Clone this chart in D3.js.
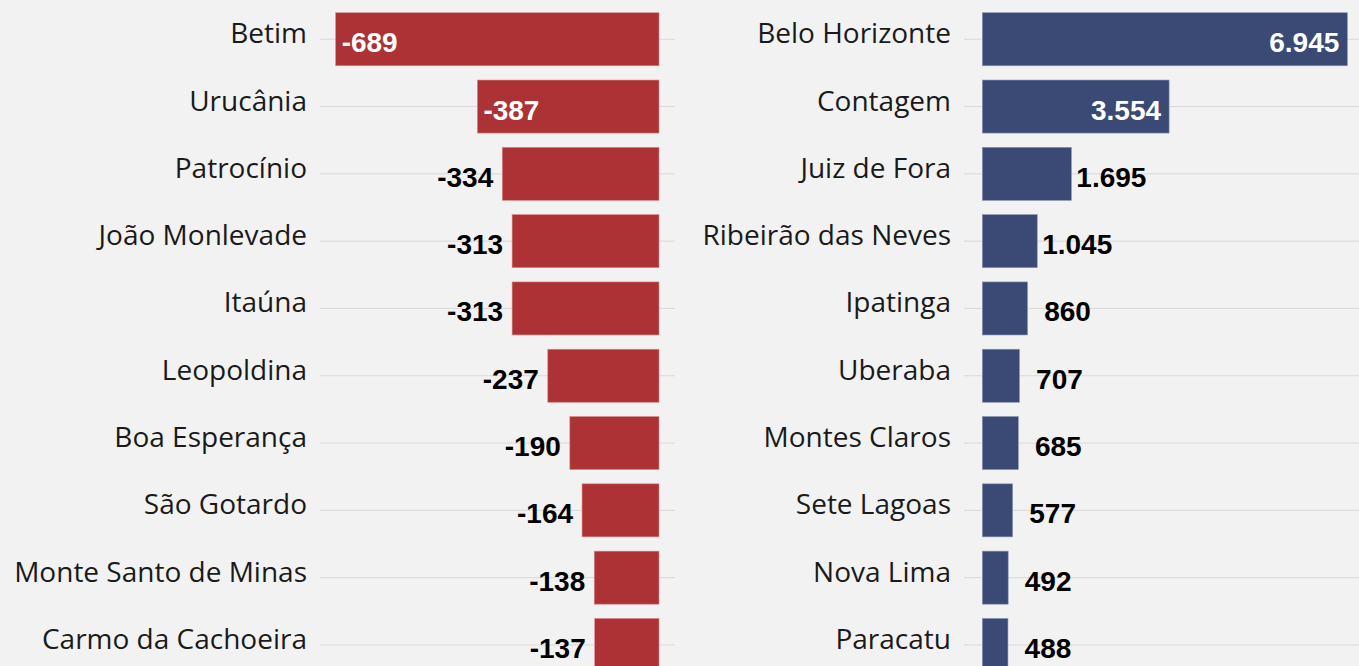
<!DOCTYPE html>
<html>
<head>
<meta charset="utf-8">
<script src="https://cdn.jsdelivr.net/npm/d3@7"></script>
<style>
  html, body { margin: 0; padding: 0; background: #f2f2f2; overflow: hidden; }
</style>
</head>
<body>
<div id="chart"></div>
<script>
// Data
const lossCities = ["Betim", "Urucânia", "Patrocínio", "João Monlevade", "Itaúna",
                    "Leopoldina", "Boa Esperança", "São Gotardo", "Monte Santo de Minas", "Carmo da Cachoeira"];
const lossValues = [-689, -387, -334, -313, -313, -237, -190, -164, -138, -137];

const gainCities = ["Belo Horizonte", "Contagem", "Juiz de Fora", "Ribeirão das Neves", "Ipatinga",
                    "Uberaba", "Montes Claros", "Sete Lagoas", "Nova Lima", "Paracatu"];
const gainValues = [6945, 3554, 1695, 1045, 860, 707, 685, 577, 492, 488];

const width = 1359, height = 666;

const svg = d3.select("#chart")
              .append("svg")
              .attr("width", width)
              .attr("height", height)
              .style("display", "block");

svg.append("rect")
    .attr("width", width)
    .attr("height", height)
    .attr("fill", "#f2f2f2");

// number format: 6.945 / -689
const fmt = d3.formatLocale({ decimal: ",", thousands: ".", grouping: [3], currency: ["", ""], minus: "-" })
              .format(",d");

const catFont = "'Open Sans', 'Noto Sans', sans-serif";
const valFont = "'Liberation Sans', Arial, sans-serif";

// Row scales
const yLeft = d3.scaleBand()
                .domain(lossCities)
                .range([5.6, 5.6 + 67.3 * 10])
                .paddingInner(0.212)
                .paddingOuter(0.106);

const yRight = d3.scaleBand()
                 .domain(gainCities)
                 .range([5.6, 5.6 + 67.3 * 10])
                 .paddingInner(0.212)
                 .paddingOuter(0.106);

// Left panel (negative values)
const xLeft = d3.scaleLinear()
                .domain([-700, 0])
                .range([659 - 700 * 0.4693, 659]);

const leftData = lossCities.map((c, i) => ({ city: c, value: lossValues[i] }));

const gl = svg.append("g");

gl.selectAll(".grid")
  .data(leftData)
  .join("line")
  .attr("x1", 320)
  .attr("x2", 675)
  .attr("y1", d => yLeft(d.city) + yLeft.bandwidth() / 2)
  .attr("y2", d => yLeft(d.city) + yLeft.bandwidth() / 2)
  .attr("stroke", "#d9d9d9")
  .attr("stroke-width", 1);

gl.selectAll(".bar")
  .data(leftData)
  .join("rect")
  .attr("x", d => xLeft(d.value))
  .attr("width", d => xLeft(0) - xLeft(d.value))
  .attr("y", d => yLeft(d.city))
  .attr("height", yLeft.bandwidth())
  .attr("fill", "#ad3236")
  .attr("stroke", "#d98a8c")
  .attr("stroke-width", 0.6);

gl.selectAll(".cat")
  .data(leftData)
  .join("text")
  .attr("x", 307)
  .attr("y", d => yLeft(d.city) + yLeft.bandwidth() / 2 + 4)
  .attr("text-anchor", "end")
  .style("font-family", catFont)
  .style("font-size", "28px")
  .attr("fill", "#1a1a1a")
  .text(d => d.city);

gl.selectAll(".val")
  .data(leftData)
  .join("text")
  .each(function(d) {
      const inside = xLeft(0) - xLeft(d.value) > 170;
      d3.select(this)
        .attr("x", inside ? xLeft(d.value) + 6 : xLeft(d.value) - 37)
        .attr("text-anchor", inside ? "start" : "middle")
        .attr("fill", inside ? "#ffffff" : "#000000");
  })
  .attr("y", d => yLeft(d.city) + yLeft.bandwidth() / 2 + 13)
  .style("font-family", valFont)
  .style("font-weight", "bold")
  .style("font-size", "28px")
  .text(d => fmt(d.value));

// Right panel (positive values)
const xRight = d3.scaleLinear()
                 .domain([0, 7000])
                 .range([982.3, 982.3 + 7000 * 0.05256]);

const rightData = gainCities.map((c, i) => ({ city: c, value: gainValues[i] }));

const gr = svg.append("g");

gr.selectAll(".grid")
  .data(rightData)
  .join("line")
  .attr("x1", 964)
  .attr("x2", width)
  .attr("y1", d => yRight(d.city) + yRight.bandwidth() / 2)
  .attr("y2", d => yRight(d.city) + yRight.bandwidth() / 2)
  .attr("stroke", "#d9d9d9")
  .attr("stroke-width", 1);

gr.selectAll(".bar")
  .data(rightData)
  .join("rect")
  .attr("x", xRight(0))
  .attr("width", d => xRight(d.value) - xRight(0))
  .attr("y", d => yRight(d.city))
  .attr("height", yRight.bandwidth())
  .attr("fill", "#3b4a75")
  .attr("stroke", "#8a94b0")
  .attr("stroke-width", 0.6);

gr.selectAll(".cat")
  .data(rightData)
  .join("text")
  .attr("x", 951)
  .attr("y", d => yRight(d.city) + yRight.bandwidth() / 2 + 4)
  .attr("text-anchor", "end")
  .style("font-family", catFont)
  .style("font-size", "28px")
  .attr("fill", "#1a1a1a")
  .text(d => d.city);

gr.selectAll(".val")
  .data(rightData)
  .join("text")
  .each(function(d) {
      const inside = xRight(d.value) - xRight(0) > 170;
      d3.select(this)
        .attr("x", inside ? xRight(d.value) - 8 : xRight(d.value) + 40)
        .attr("text-anchor", inside ? "end" : "middle")
        .attr("fill", inside ? "#ffffff" : "#000000");
  })
  .attr("y", d => yRight(d.city) + yRight.bandwidth() / 2 + 13)
  .style("font-family", valFont)
  .style("font-weight", "bold")
  .style("font-size", "28px")
  .text(d => fmt(d.value));
</script>
</body>
</html>
